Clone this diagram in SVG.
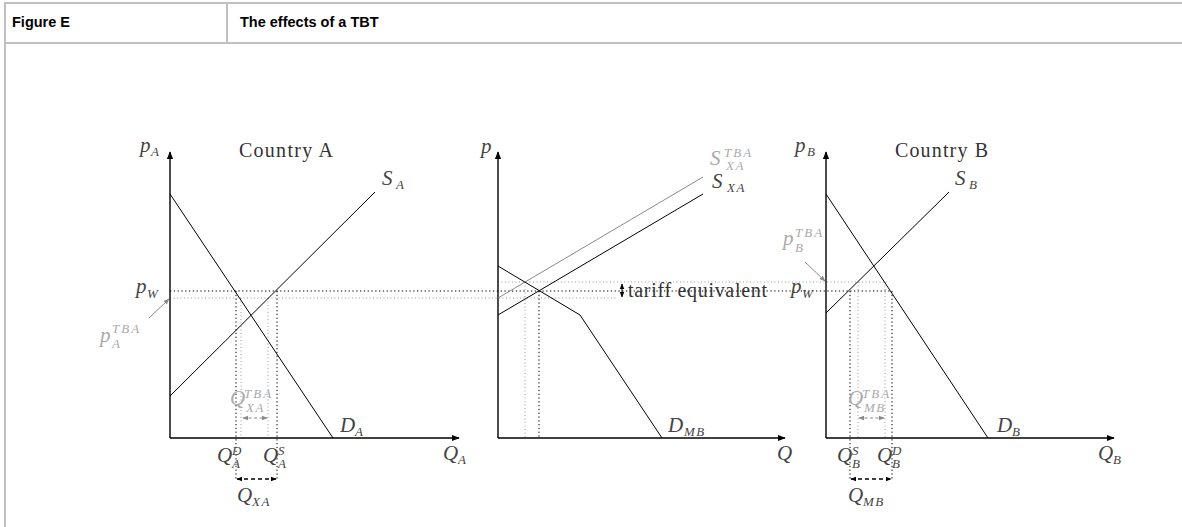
<svg xmlns="http://www.w3.org/2000/svg" width="1182" height="527" viewBox="0 0 1182 527">
<style>
.ax{stroke:#000;stroke-width:1.4;fill:none}
.ln{stroke:#000;stroke-width:1;fill:none}
.gl{stroke:#8a8a8a;stroke-width:1;fill:none}
.dk{stroke:#000;stroke-width:1;stroke-dasharray:1.3 2.5;fill:none}
.dg{stroke:#999;stroke-width:1;stroke-dasharray:1 2.5;fill:none}
.da{stroke:#000;stroke-width:1.3;stroke-dasharray:4 3;fill:none}
.dga{stroke:#888;stroke-width:1;stroke-dasharray:3 2.5;fill:none}
.m{font-family:"Liberation Serif","DejaVu Serif",serif;font-style:italic;font-size:21px;fill:#444}
.s{font-size:13px}
.g{fill:#aaa}
.t{font-family:"Liberation Serif","DejaVu Serif",serif;font-size:20px;fill:#333}
.h{font-family:"Liberation Sans",Arial,sans-serif;font-weight:bold;font-size:14.5px;fill:#000}
.bd{stroke:#c0c0c0;stroke-width:2;fill:none}
</style>
<defs>
<marker id="ah" viewBox="0 0 10 10" refX="9" refY="5" markerWidth="8" markerHeight="8" markerUnits="userSpaceOnUse" orient="auto-start-reverse"><path d="M0,1 L10,5 L0,9 z" fill="#000"/></marker>
<marker id="as" viewBox="0 0 10 10" refX="9" refY="5" markerWidth="6" markerHeight="6" markerUnits="userSpaceOnUse" orient="auto-start-reverse"><path d="M0,1 L10,5 L0,9 z" fill="#000"/></marker>
<marker id="ag" viewBox="0 0 10 10" refX="9" refY="5" markerWidth="6" markerHeight="6" markerUnits="userSpaceOnUse" orient="auto-start-reverse"><path d="M0,1 L10,5 L0,9 z" fill="#888"/></marker>
</defs>
<rect width="1182" height="527" fill="#fff"/>
<g id="frame">
<path class="bd" d="M4,3 H1182 M4,43 H1182 M5,3 V527 M227,3 V43"/>
<text class="h" x="12" y="27">Figure E</text>
<text class="h" x="240" y="27">The effects of a TBT</text>
</g>
<g id="connectors">
<path class="dk" d="M170,291 H892"/>
<path class="dg" d="M170,298 H618"/>
<path class="dg" d="M498,282 H887"/>
<path class="dk" d="M236,291 V480 M277,291 V480"/>
<path class="dg" d="M241,298 V438 M268,298 V438"/>
<path class="dg" d="M525,282 V438"/>
<path class="dk" d="M539,291 V438"/>
<path class="dk" d="M850,291 V480 M892,291 V480"/>
<path class="dg" d="M858,282 V438 M885,282 V438"/>
<path class="dga" d="M243,418 H267" marker-start="url(#ag)" marker-end="url(#ag)"/>
<path class="da" d="M237,479 H276" marker-start="url(#as)" marker-end="url(#as)"/>
<path class="dga" d="M859,418 H884" marker-start="url(#ag)" marker-end="url(#ag)"/>
<path class="da" d="M851,479 H891" marker-start="url(#as)" marker-end="url(#as)"/>
<path class="ln" d="M622,284 V297" marker-start="url(#as)" marker-end="url(#as)"/>
<path class="gl" d="M149,318 L169,299" marker-end="url(#ag)"/>
<path class="gl" d="M805,262 L825,281" marker-end="url(#ag)"/>
</g>
<g id="countryA">
<path class="ax" d="M170,438 V152" marker-end="url(#ah)"/>
<path class="ax" d="M170,438 H459" marker-end="url(#ah)"/>
<path class="ln" d="M170,194 L333,438"/>
<path class="ln" d="M170,396 L375,192"/>
<text class="m" x="140" y="152">p</text><text class="m s" x="151" y="156">A</text>
<text class="t" x="239" y="157" textLength="94">Country A</text>
<text class="m" x="382" y="185">S</text><text class="m s" x="396" y="189">A</text>
<text class="m" x="136" y="293">p</text><text class="m s" x="147" y="298">W</text>
<text class="m g" x="100" y="342">p</text><text class="m s g" x="112" y="333" letter-spacing="2">TBA</text><text class="m s g" x="112" y="348">A</text>
<text class="m g" x="230" y="405">Q</text><text class="m s g" x="244" y="398" letter-spacing="2">TBA</text><text class="m s g" x="246" y="412" letter-spacing="1.5">XA</text>
<text class="m" x="340" y="432">D</text><text class="m s" x="355" y="436">A</text>
<text class="m" x="217" y="462">Q</text><text class="m s" x="232" y="455">D</text><text class="m s" x="232" y="468">A</text>
<text class="m" x="263" y="462">Q</text><text class="m s" x="278" y="455">S</text><text class="m s" x="278" y="468">A</text>
<text class="m" x="443" y="460">Q</text><text class="m s" x="458" y="464">A</text>
<text class="m" x="237" y="502">Q</text><text class="m s" x="252" y="506" letter-spacing="1.5">XA</text>
</g>
<g id="market">
<path class="ax" d="M498,438 V152" marker-end="url(#ah)"/>
<path class="ax" d="M498,438 H785" marker-end="url(#ah)"/>
<path class="gl" d="M498,298 L703,177"/>
<path class="ln" d="M498,315 L703,194"/>
<path class="ln" d="M498,266 L580,315 L662,438"/>
<text class="m" x="481" y="153">p</text>
<text class="m g" x="710" y="165">S</text><text class="m s g" x="724" y="157" letter-spacing="2">TBA</text><text class="m s g" x="726" y="170" letter-spacing="1.5">XA</text>
<text class="m" x="712" y="188">S</text><text class="m s" x="727" y="192" letter-spacing="1.5">XA</text>
<text class="t" x="628" y="297" textLength="139">tariff equivalent</text>
<text class="m" x="668" y="432">D</text><text class="m s" x="684" y="436" letter-spacing="1.5">MB</text>
<text class="m" x="777" y="460">Q</text>
</g>
<g id="countryB">
<path class="ax" d="M826,438 V152" marker-end="url(#ah)"/>
<path class="ax" d="M826,438 H1114" marker-end="url(#ah)"/>
<path class="ln" d="M826,194 L988,438"/>
<path class="ln" d="M826,313 L949,192"/>
<text class="m" x="795" y="152">p</text><text class="m s" x="807" y="156">B</text>
<text class="t" x="895" y="157" textLength="93">Country B</text>
<text class="m" x="955" y="185">S</text><text class="m s" x="969" y="189">B</text>
<text class="m g" x="783" y="245">p</text><text class="m s g" x="795" y="237" letter-spacing="2">TBA</text><text class="m s g" x="795" y="252">B</text>
<text class="m" x="791" y="293">p</text><text class="m s" x="802" y="298">W</text>
<text class="m g" x="848" y="405">Q</text><text class="m s g" x="862" y="398" letter-spacing="2">TBA</text><text class="m s g" x="864" y="412" letter-spacing="1.5">MB</text>
<text class="m" x="837" y="462">Q</text><text class="m s" x="852" y="455">S</text><text class="m s" x="852" y="468">B</text>
<text class="m" x="877" y="462">Q</text><text class="m s" x="892" y="455">D</text><text class="m s" x="892" y="468">B</text>
<text class="m" x="848" y="502">Q</text><text class="m s" x="863" y="506" letter-spacing="1.5">MB</text>
<text class="m" x="997" y="432">D</text><text class="m s" x="1012" y="436">B</text>
<text class="m" x="1098" y="460">Q</text><text class="m s" x="1113" y="464">B</text>
</g>
</svg>
